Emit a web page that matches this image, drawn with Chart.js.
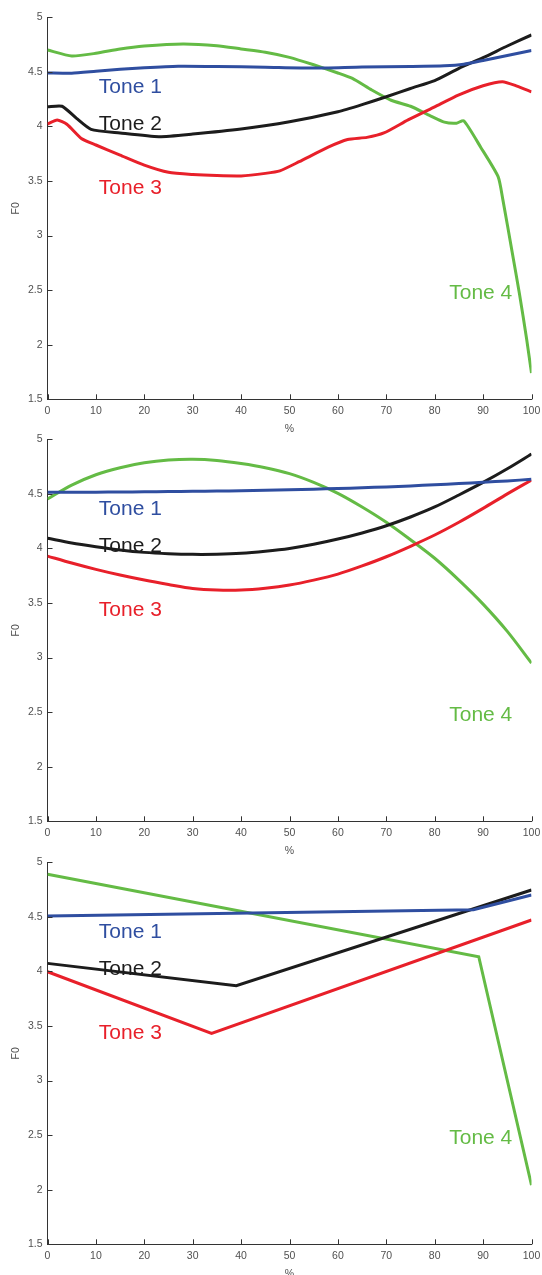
<!DOCTYPE html>
<html>
<head>
<meta charset="utf-8">
<script src="https://cdn.jsdelivr.net/npm/chart.js@4"></script>
<style>
  html, body { margin: 0; padding: 0; background: #fff; overflow: hidden; }
  body { width: 542px; height: 1275px; position: relative; }
  .panel { position: absolute; left: 0; width: 542px; height: 440px; }
</style>
</head>
<body>
<div class="panel" style="top:0px"><canvas id="c1"></canvas></div>
<div class="panel" style="top:422px"><canvas id="c2"></canvas></div>
<div class="panel" style="top:845px"><canvas id="c3"></canvas></div>

<script>
// ------------------------------------------------------------
//  Datos
// ------------------------------------------------------------
const toneNames  = ['Tone 1', 'Tone 2', 'Tone 3', 'Tone 4']
const toneColors = ['#2f4ea0', '#1c1c1c', '#e8202a', '#64bb45']

const xTicks = [0, 10, 20, 30, 40, 50, 60, 70, 80, 90, 100]
const yTicks = [1.5, 2, 2.5, 3, 3.5, 4, 4.5, 5]

// posición de las etiquetas (en unidades de datos)
const labelX = [10.6, 10.6, 10.6, 83]
const labelY = [4.375, 4.04, 3.45, 2.49]

// Panel 1: curvas medias
const p1x1 = [0, 5, 10, 15, 20, 27, 35, 45, 55, 65, 75, 82, 86, 90, 95, 100]
const p1y1 = [4.49, 4.487, 4.505, 4.523, 4.538, 4.552, 4.55, 4.543, 4.535, 4.545, 4.55, 4.556, 4.57, 4.605, 4.65, 4.695]
const p1x2 = [0, 3, 6, 9, 15, 23, 30, 40, 50, 60, 65, 70, 75, 80, 85, 90, 95, 100]
const p1y2 = [4.18, 4.185, 4.074, 3.973, 3.94, 3.906, 3.93, 3.976, 4.043, 4.135, 4.2, 4.272, 4.348, 4.42, 4.532, 4.63, 4.737, 4.838]
const p1x3 = [0, 2, 4, 7, 10, 15, 20, 25, 30, 35, 40, 45, 48, 52, 58, 62, 66, 69.5, 74.5, 80, 85, 90, 94, 97, 100]
const p1y3 = [4.022, 4.059, 4.02, 3.89, 3.83, 3.738, 3.646, 3.58, 3.56, 3.55, 3.547, 3.57, 3.593, 3.677, 3.81, 3.88, 3.9, 3.94, 4.06, 4.18, 4.29, 4.373, 4.41, 4.37, 4.318]
const p1x4 = [0, 5, 10, 15, 20, 28, 35, 40, 45, 50, 55, 60, 63, 67, 71, 75, 79, 82, 84.5, 86, 89.5, 93.1, 94.1, 96, 97.5, 99, 100]
const p1y4 = [4.7, 4.645, 4.67, 4.71, 4.737, 4.756, 4.74, 4.71, 4.68, 4.633, 4.565, 4.49, 4.44, 4.334, 4.24, 4.185, 4.1, 4.04, 4.03, 4.052, 3.81, 3.54, 3.325, 2.85, 2.47, 2.05, 1.74]

// Panel 2: ajuste polinomial
const p2x  = [0, 5, 10, 15, 20, 25, 30, 35, 40, 45, 50, 55, 60, 65, 70, 75, 80, 85, 90, 95, 100]
const p2y1 = [4.514, 4.515, 4.516, 4.517, 4.519, 4.521, 4.523, 4.526, 4.529, 4.533, 4.538, 4.543, 4.549, 4.556, 4.564, 4.573, 4.583, 4.594, 4.606, 4.619, 4.633]
const p2y2 = [4.093, 4.05, 4.016, 3.986, 3.964, 3.952, 3.946, 3.947, 3.955, 3.974, 4.0, 4.038, 4.086, 4.142, 4.208, 4.288, 4.38, 4.49, 4.605, 4.73, 4.865]
const p2y3 = [3.93, 3.866, 3.808, 3.756, 3.71, 3.67, 3.634, 3.619, 3.619, 3.636, 3.665, 3.71, 3.765, 3.84, 3.924, 4.02, 4.123, 4.24, 4.367, 4.5, 4.627]
const p2y4 = [4.453, 4.58, 4.675, 4.74, 4.785, 4.81, 4.817, 4.806, 4.778, 4.74, 4.685, 4.605, 4.505, 4.38, 4.24, 4.08, 3.91, 3.71, 3.49, 3.24, 2.95]

// Panel 3: tramos lineales
const p3x1 = [0, 88, 100]
const p3y1 = [4.508, 4.565, 4.7]
const p3x2 = [0, 39, 100]
const p3y2 = [4.074, 3.869, 4.746]
const p3x3 = [0, 33.9, 100]
const p3y3 = [3.997, 3.433, 4.471]
const p3x4 = [0, 89.1, 100]
const p3y4 = [4.89, 4.135, 2.042]

// ------------------------------------------------------------
//  Estilo
// ------------------------------------------------------------
const FONT      = "'Liberation Sans', Arial, Helvetica, sans-serif"
const AXIS_GRAY = '#333333'
const TEXT_GRAY = '#505050'
const CANVAS_H  = 440
const AREA_LEFT = 47.5
const AREA_TOP  = 17.3
const AREA_BOT  = 399.3

const pts = (xs, ys) => xs.map((x, i) => ({ x, y: ys[i] }))

// ticks hacia adentro, estilo MATLAB
const inwardTicks = {
    id: 'inwardTicks',
    afterDraw(chart) {
        const { ctx, chartArea, scales } = chart
        ctx.save()
        ctx.strokeStyle = AXIS_GRAY
        ctx.lineWidth = 1
        ctx.beginPath()
        xTicks.forEach(v => {
            const px = Math.round(scales.x.getPixelForValue(v)) + 0.5
            ctx.moveTo(px, chartArea.bottom)
            ctx.lineTo(px, chartArea.bottom - 5)
        })
        yTicks.forEach(v => {
            const py = Math.round(scales.y.getPixelForValue(v)) + 0.5
            ctx.moveTo(chartArea.left, py)
            ctx.lineTo(chartArea.left + 5, py)
        })
        ctx.stroke()
        ctx.restore()
    }
}

// etiquetas "Tone n" dentro del gráfico
const toneLabels = {
    id: 'toneLabels',
    afterDatasetsDraw(chart) {
        const { ctx, scales } = chart
        ctx.save()
        ctx.font = `21px ${FONT}`
        ctx.textAlign = 'left'
        ctx.textBaseline = 'alphabetic'
        toneNames.forEach((name, i) => {
            ctx.fillStyle = toneColors[i]
            const px = scales.x.getPixelForValue(labelX[i])
            const py = scales.y.getPixelForValue(labelY[i]) + 7.5
            ctx.fillText(name, px, py)
        })
        ctx.restore()
    }
}

function makePanel(id, series, tension) {
    const ctx = document.getElementById(id).getContext('2d')
    return new Chart(ctx, {
        type: 'line',
        data: {
            datasets: series.map((data, i) => ({
                label:       toneNames[i],
                data,
                borderColor: toneColors[i],
                borderWidth: 3,
                pointRadius: 0,
                fill:        false,
                tension,
            }))
        },
        options: {
            responsive:          true,
            maintainAspectRatio: false,
            animation:           false,
            layout: { padding: { top: AREA_TOP, right: 10.5, left: 0, bottom: 0 } },
            plugins: {
                legend:  { display: false },
                tooltip: { enabled: false },
            },
            scales: {
                x: {
                    type: 'linear',
                    min: 0, max: 100,
                    afterBuildTicks: s => { s.ticks = xTicks.map(value => ({ value })) },
                    afterFit: s => {
                        s.height = CANVAS_H - AREA_BOT
                        s.paddingLeft = 0
                        s.paddingRight = 0
                    },
                    ticks:  { color: TEXT_GRAY, font: { family: FONT, size: 10.5 }, padding: 6, maxRotation: 0 },
                    grid:   { display: false, drawTicks: false },
                    border: { display: true, color: AXIS_GRAY, width: 1 },
                    title:  { display: true, text: '%', color: TEXT_GRAY,
                              font: { family: FONT, size: 10.5 }, padding: { top: 0, bottom: 5 } },
                },
                y: {
                    type: 'linear',
                    min: 1.5, max: 5,
                    afterBuildTicks: s => { s.ticks = yTicks.map(value => ({ value })) },
                    afterFit: s => { s.width = AREA_LEFT },
                    ticks:  { color: TEXT_GRAY, font: { family: FONT, size: 10.5 }, padding: 5,
                              callback: v => String(v) },
                    grid:   { display: false, drawTicks: false },
                    border: { display: true, color: AXIS_GRAY, width: 1 },
                    title:  { display: true, text: 'F0', color: TEXT_GRAY,
                              font: { family: FONT, size: 10.5 }, padding: { top: 10, bottom: 0 } },
                },
            },
        },
        plugins: [inwardTicks, toneLabels],
    })
}

makePanel('c1', [pts(p1x1, p1y1), pts(p1x2, p1y2), pts(p1x3, p1y3), pts(p1x4, p1y4)], 0.2)
makePanel('c2', [pts(p2x, p2y1),  pts(p2x, p2y2),  pts(p2x, p2y3),  pts(p2x, p2y4)],  0.3)
makePanel('c3', [pts(p3x1, p3y1), pts(p3x2, p3y2), pts(p3x3, p3y3), pts(p3x4, p3y4)], 0)
</script>
</body>
</html>
